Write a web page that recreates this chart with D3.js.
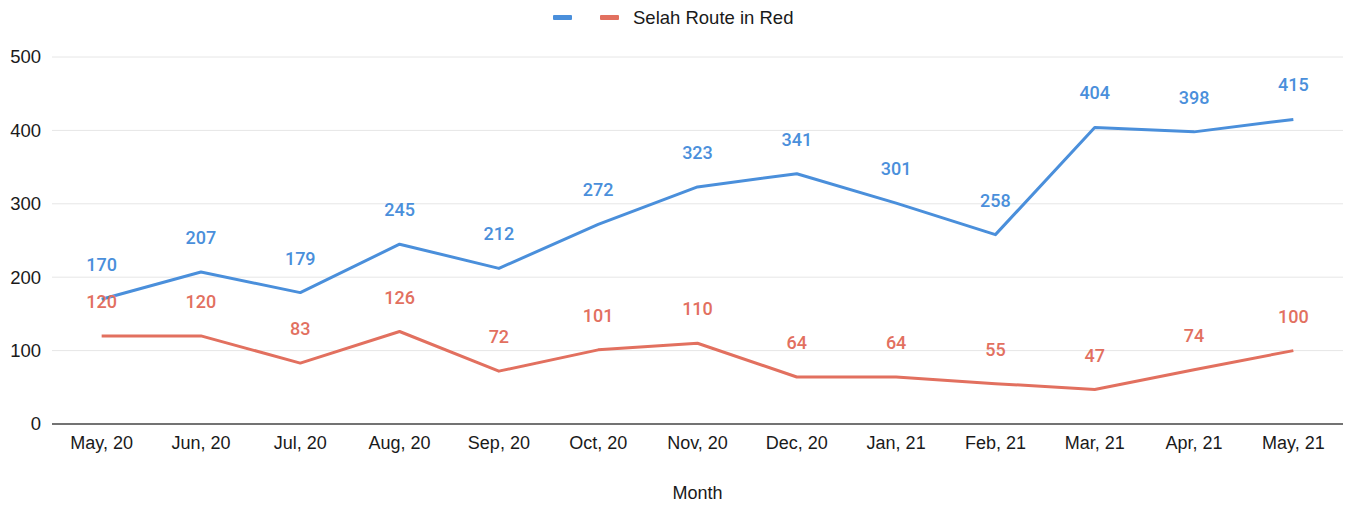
<!DOCTYPE html>
<html><head><meta charset="utf-8">
<script src="https://cdn.jsdelivr.net/npm/d3@7"></script>
<style>body{margin:0;background:#fff;} svg{display:block;}</style>
</head><body><svg id="c" width="1346" height="506"></svg>
<script>
const months = ["May, 20","Jun, 20","Jul, 20","Aug, 20","Sep, 20","Oct, 20","Nov, 20","Dec, 20","Jan, 21","Feb, 21","Mar, 21","Apr, 21","May, 21"];
const blueValues = [170,207,179,245,212,272,323,341,301,258,404,398,415];
const redValues = [120,120,83,126,72,101,110,64,64,55,47,74,100];
const yTicks = [0,100,200,300,400,500];
const legendLabels = ["", "Selah Route in Red"];
const xTitle = "Month";

const blue = "#4a8fdb", red = "#e2705f";
const svg = d3.select("#c");
const m = {l:52, r:3, t:57, b:82};
const W = 1346, H = 506;
const x = d3.scaleBand().domain(months).range([m.l, W-m.r]);
const y = d3.scaleLinear().domain([0,500]).range([H-m.b, m.t]);
const cx = d => x(d) + x.bandwidth()/2;

// grid
svg.append("g").selectAll("line").data(yTicks.filter(t=>t>0)).join("line")
  .attr("x1", m.l).attr("x2", W-m.r).attr("y1", d=>y(d)).attr("y2", d=>y(d))
  .attr("stroke","#e6e6e6").attr("stroke-width",1);

// y axis labels
const ya = svg.append("g").attr("transform",`translate(${m.l},0)`)
  .call(d3.axisLeft(y).tickValues(yTicks).tickSize(0).tickPadding(11));
ya.select(".domain").remove();
ya.selectAll("text").attr("font-family","Liberation Sans, Arial, sans-serif").attr("font-size",18.5).attr("fill","#1a1a1a");

// baseline
svg.append("line").attr("x1",m.l).attr("x2",W-m.r).attr("y1",y(0)).attr("y2",y(0))
  .attr("stroke","#444").attr("stroke-width",1.5);

// x axis
const xa = svg.append("g").attr("transform",`translate(0,${y(0)})`)
  .call(d3.axisBottom(x).tickSize(0).tickPadding(12));
xa.select(".domain").remove();
xa.selectAll("text").attr("font-family","'Liberation Sans Narrow', 'Arial Narrow', 'Liberation Sans', sans-serif").attr("font-size",18).attr("fill","#1a1a1a");

svg.append("text").attr("x", (m.l + W - m.r)/2).attr("y", 499).attr("text-anchor","middle")
  .attr("font-family","'Liberation Sans Narrow','Liberation Sans', sans-serif").attr("font-size",18).attr("fill","#1a1a1a").text(xTitle);

// lines
const line = vals => d3.line().x((d,i)=>cx(months[i])).y(d=>y(d))(vals);
svg.append("path").attr("d", line(redValues)).attr("fill","none").attr("stroke",red).attr("stroke-width",3).attr("stroke-linejoin","round");
svg.append("path").attr("d", line(blueValues)).attr("fill","none").attr("stroke",blue).attr("stroke-width",3).attr("stroke-linejoin","round");

// labels
function labels(vals, col){
  svg.append("g").selectAll("text").data(vals).join("text")
    .attr("x",(d,i)=>cx(months[i])).attr("y",d=>y(d)-28)
    .attr("text-anchor","middle").attr("font-family","Roboto, sans-serif").attr("font-size",18)
    .attr("font-weight",500).attr("fill",col).text(d=>d);
}
labels(redValues, red);
labels(blueValues, blue);

// legend
const lg = svg.append("g");
lg.append("rect").attr("x",553).attr("y",15).attr("width",19).attr("height",5).attr("fill",blue).attr("rx",1);
lg.append("rect").attr("x",600).attr("y",15).attr("width",19).attr("height",5).attr("fill",red).attr("rx",1);
lg.append("text").attr("x",633).attr("y",24).attr("font-family","Liberation Sans, Arial, sans-serif").attr("font-size",18.5).attr("fill","#1a1a1a").text(legendLabels[1]);
</script></body></html>
